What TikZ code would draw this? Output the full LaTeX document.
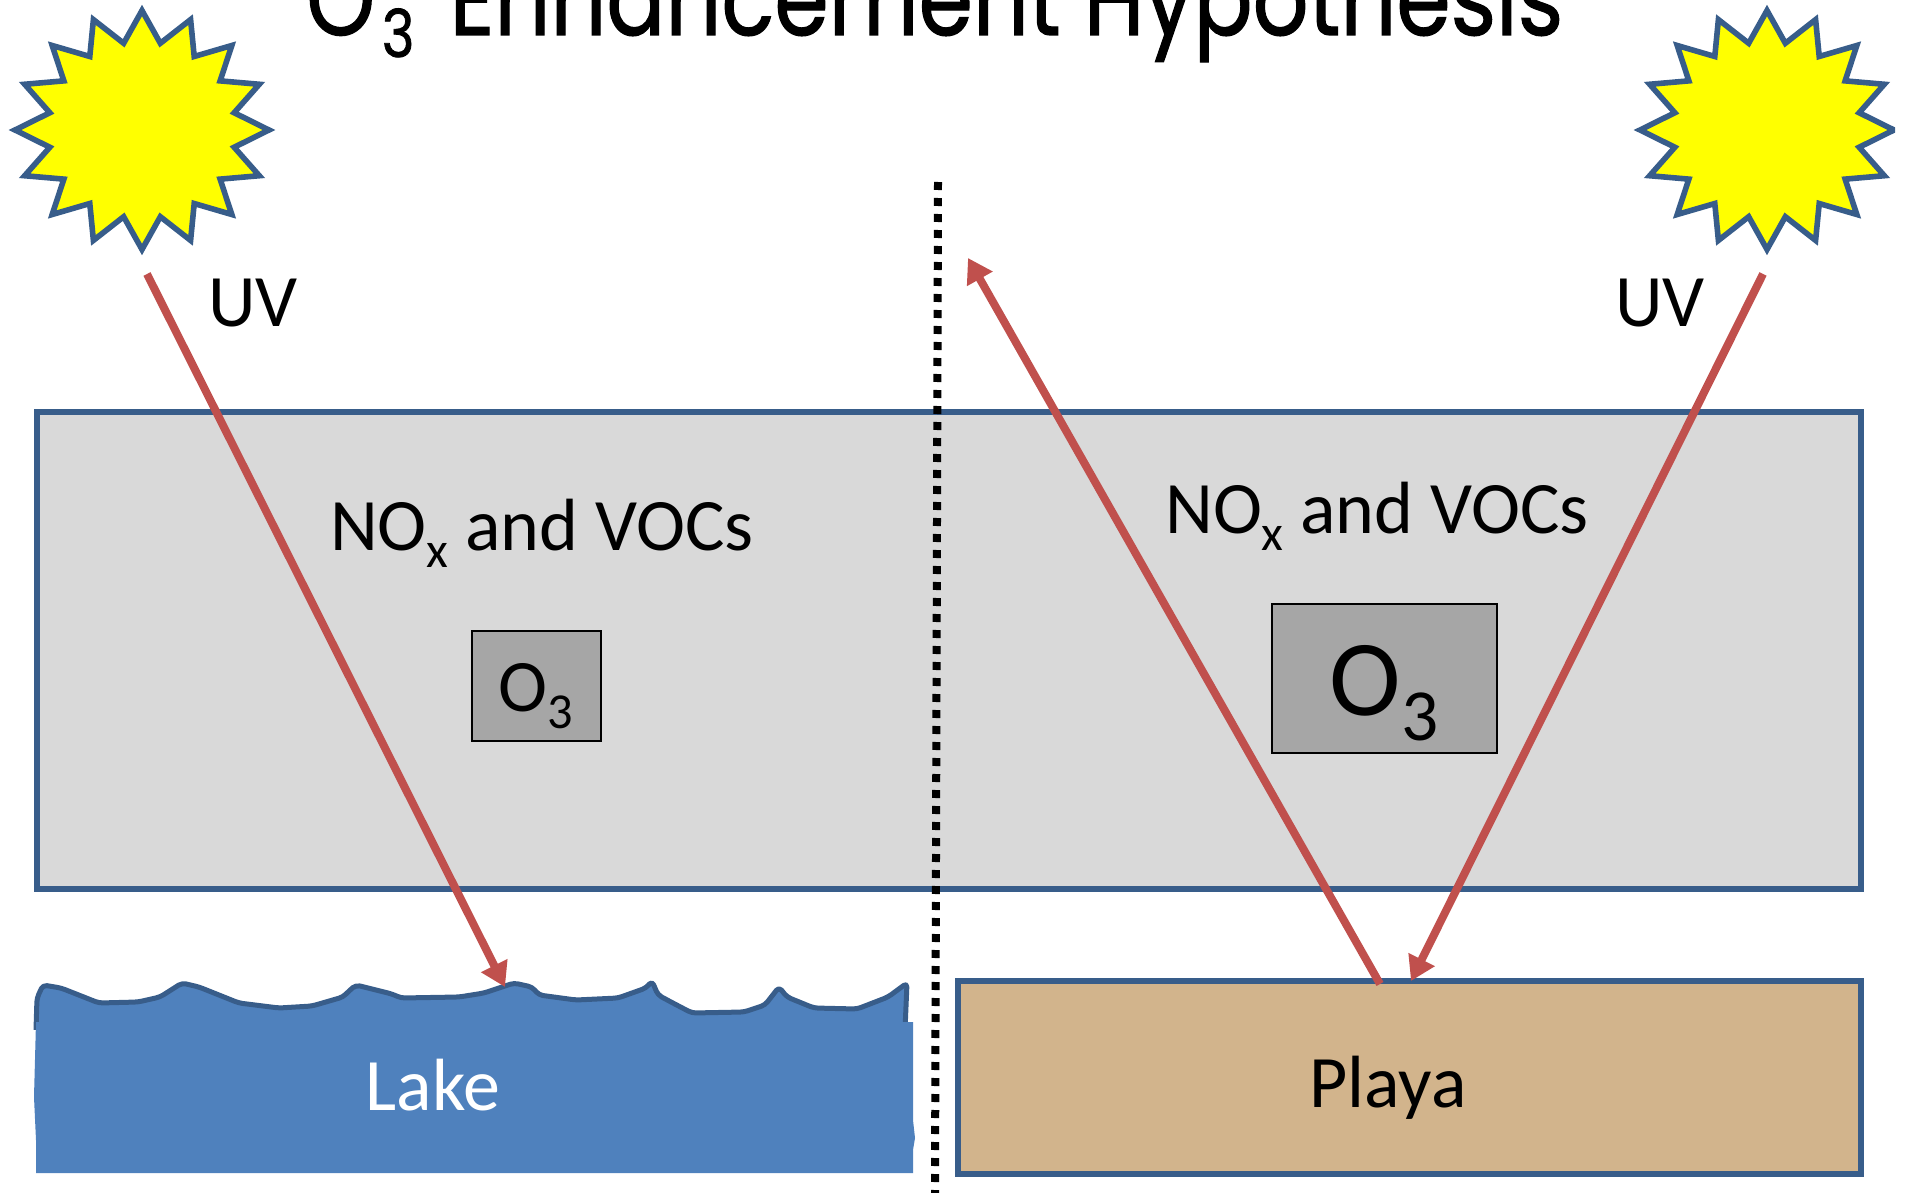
\documentclass[tikz,border=0pt]{standalone}
\usepackage{fontspec}
\usepackage{graphicx}
\setmainfont{Carlito}
\newfontfamily\titlefont[FakeBold=1.2]{Poppins}
\usetikzlibrary{arrows.meta}
\definecolor{edgeblue}{HTML}{385D8A}
\definecolor{lakeblue}{HTML}{4F81BD}
\definecolor{arrowred}{HTML}{C0504D}
\definecolor{hazegray}{HTML}{D9D9D9}
\definecolor{ozonegray}{HTML}{A6A6A6}
\definecolor{playatan}{HTML}{D2B48C}
\definecolor{sunyellow}{HTML}{FFFF00}
\newcommand\lowsub[1]{\raisebox{-.24em}{\fontsize{.68em}{1em}\selectfont #1}}
\tikzset{
  hazebox/.style={draw=edgeblue,fill=hazegray,line width=2.8pt,inner sep=0pt,minimum width=912pt,minimum height=238.5pt},
  ozonebox/.style={draw=black,fill=ozonegray,line width=.7pt,inner sep=0pt},
  playabox/.style={draw=edgeblue,fill=playatan,line width=2.8pt,inner sep=0pt,minimum width=451.5pt,minimum height=96.5pt},
  label/.style={anchor=base,inner sep=0pt,font=\fontsize{37}{40}\selectfont},
  ray/.style={draw=arrowred,line width=4pt,-{Triangle[length=12pt,width=14pt]}},
  sunstar/.style={draw=edgeblue,fill=sunyellow,line width=2.8pt,miter limit=10},
  divider/.style={draw=black,line width=4pt,dash pattern=on 4pt off 4pt},
}
\begin{document}
\begin{tikzpicture}[x=.5pt,y=-.5pt]
\useasboundingbox (0,0) rectangle (1907,1193);
\clip (0,0) rectangle (1907,1193);
% title
\node[anchor=base west,inner sep=0pt,font=\titlefont\fontsize{52}{60}\selectfont] (title) at (306,35) {\resizebox{628.5pt}{\height}{O\hspace{4pt}\raisebox{-11pt}{\fontsize{33}{36}\selectfont 3}\hspace{7pt} Enhancement Hypothesis}};
% suns
\draw[sunstar] plot[samples at={0,...,31},variable=\k] ({142+127*(mod(\k,2)==0?1:.74)*cos(\k*11.25)},{130+119.5*(mod(\k,2)==0?1:.74)*sin(\k*11.25)}) -- cycle;
\begin{scope}
\clip (1500,0) rectangle (1895,300);
\draw[sunstar] plot[samples at={0,...,31},variable=\k] ({1767+127*(mod(\k,2)==0?1:.74)*cos(\k*11.25)},{130+119.5*(mod(\k,2)==0?1:.74)*sin(\k*11.25)}) -- cycle;
\end{scope}
% haze
\node[hazebox] (haze) at (949,650.5) {};
\node[ozonebox,minimum width=64.5pt,minimum height=55pt] (ozoneA) at (536.5,686) {};
\node[ozonebox,minimum width=112.5pt,minimum height=74.5pt] (ozoneB) at (1384.5,678.5) {};
% lake
\fill[lakeblue] (36,1022) -- (34,1097) -- (36,1140) -- (36,1173) -- (913,1173) -- (913,1120) -- (915,1138) -- (913,1150) -- (913,1022) -- cycle;
\draw[edgeblue,fill=lakeblue,line width=2.5pt,line join=round,rounded corners=2pt]
 (36,1030) -- (37,998) -- (43,985) -- (61,988) -- (99,1003) -- (138,1002) -- (160,997) -- (182,983) -- (199,987) -- (239,1003) -- (279,1008) -- (312,1006) -- (343,997) -- (350,990) -- (356,985) -- (392,994) -- (401,998) -- (459,997) -- (484,993) -- (514,983) -- (532,987) -- (539,995) -- (576,1000) -- (618,998) -- (646,988) -- (652,981) -- (658,995) -- (671,1002) -- (692,1013) -- (744,1012) -- (765,1005) -- (779,987) -- (787,997) -- (814,1008) -- (857,1009) -- (888,997) -- (907,983) -- (905,1030);
\fill[lakeblue] (36,1022) rectangle (913,1173);
% playa
\node[playabox] (playa) at (1409.5,1077.5) {};
% divider
\coordinate (divtop) at (938,182);
\coordinate (divbot) at (935,1193);
\draw[divider] (divtop) -- (divbot);
% rays
\coordinate (sunA) at (147,274);
\coordinate (lakehit) at (505,987);
\coordinate (sunB) at (1763,274);
\coordinate (playahit) at (1411,981);
\coordinate (playaout) at (1380,984);
\coordinate (upend) at (968,258);
\draw[ray] (sunA) -- (lakehit);
\draw[ray] (sunB) -- (playahit);
\draw[ray] (playaout) -- (upend);
% labels
\node[label] (uvA) at (253,326) {UV};
\node[label] (uvB) at (1660,326) {UV};
\node[label] (gasA) at (542,550) {NO\lowsub{x} and VOCs};
\node[label] (gasB) at (1377,533) {NO\lowsub{x} and VOCs};
\node[label] (oA) at (536,711) {O\lowsub{3}};
\node[label,font=\fontsize{54}{60}\selectfont] (oB) at (1384,715) {O\lowsub{3}};
\node[label,text=white] (lakelabel) at (433,1110) {Lake};
\node[label] (playalabel) at (1388,1107) {Playa};
\end{tikzpicture}
\end{document}
